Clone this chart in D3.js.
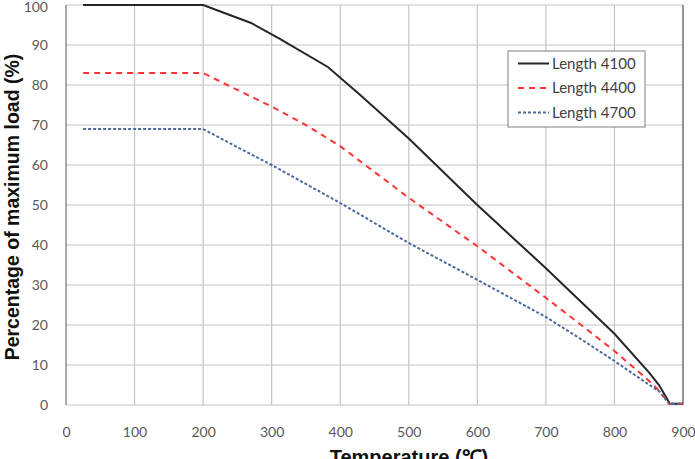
<!DOCTYPE html>
<html><head><meta charset="utf-8">
<script src="https://cdn.jsdelivr.net/npm/d3@7"></script>
<style>body{margin:0;background:#fff}svg{display:block}</style>
</head><body>
<svg id="c" width="695" height="459"></svg>
<script>
const xTicks = [0,100,200,300,400,500,600,700,800,900];
const yTicks = [0,10,20,30,40,50,60,70,80,90,100];
const seriesNames = ["Length 4100","Length 4400","Length 4700"];
const len4100 = [[25,100],[200,100],[270,95.5],[310,91.7],[382,84.5],[430,77.4],[500,66.6],[600,50],[700,34.2],[750,26],[800,17.8],[850,8.2],[865,5],[881,0.3],[900,0.3]];
const len4400 = [[25,83],[200,83],[240,79.6],[300,74.6],[350,70],[400,64.7],[500,51.8],[600,39.7],[700,26.8],[750,20.2],[800,13.5],[840,7.6],[857,5],[870,2.6],[879,0.3],[900,0.3]];
const len4700 = [[25,69],[200,69],[244,65],[300,60],[400,50.5],[500,40.5],[600,31.3],[700,22],[750,16.6],[800,11],[840,6.3],[866,3.3],[880,0.3],[900,0.3]];

const svg = d3.select("#c");
const x = d3.scaleLinear().domain([0,900]).range([66,683]);
const y = d3.scaleLinear().domain([0,100]).range([405,5]);

// gridlines
svg.append("g").selectAll("line").data(xTicks.slice(1)).join("line")
  .attr("x1",d=>x(d)).attr("x2",d=>x(d)).attr("y1",y(0)).attr("y2",y(100))
  .attr("stroke","#c4c4c4").attr("stroke-width",1.2);
svg.append("g").selectAll("line").data(yTicks).join("line")
  .attr("x1",x(0)).attr("x2",x(900)).attr("y1",d=>y(d)).attr("y2",d=>y(d))
  .attr("stroke","#c4c4c4").attr("stroke-width",1.2);
// axis lines
svg.append("line").attr("x1",x(0)).attr("x2",x(0)).attr("y1",y(0)).attr("y2",y(100)).attr("stroke","#7f7f7f").attr("stroke-width",1.3);
svg.append("line").attr("x1",x(900)).attr("x2",x(900)).attr("y1",y(0)).attr("y2",y(100)).attr("stroke","#6f6f6f").attr("stroke-width",1.3);

// axes labels via d3 axis
const ax = svg.append("g").attr("transform",`translate(0,${y(0)})`)
  .call(d3.axisBottom(x).tickValues(xTicks).tickSize(0).tickPadding(22));
const ay = svg.append("g").attr("transform",`translate(${x(0)},0)`)
  .call(d3.axisLeft(y).tickValues(yTicks).tickSize(0).tickPadding(18));
[ax,ay].forEach(a=>{
  a.select(".domain").remove();
  a.selectAll("text").attr("font-family","Lato, 'Open Sans', sans-serif").attr("font-size",14).attr("fill","#595959");
});
ay.selectAll("text").filter(d=>d===100).attr("dy","0.38em").attr("y",1);

// lines
const line = d3.line().x(d=>x(d[0])).y(d=>y(d[1]));
const styles = [
  {c:"#262626",w:2,dash:null},
  {c:"#ff3333",w:2,dash:"6,5"},
  {c:"#4a6a9c",w:2,dash:"3,2"}
];
[len4100,len4400,len4700].forEach((s,i)=>{
  svg.append("path").datum(s).attr("d",line).attr("fill","none")
    .attr("stroke",styles[i].c).attr("stroke-width",styles[i].w)
    .attr("stroke-dasharray",styles[i].dash);
});

// legend
const lg = svg.append("g");
lg.append("rect").attr("x",508).attr("y",51).attr("width",137).attr("height",76)
  .attr("fill","#fff").attr("stroke","#7f7f7f").attr("stroke-width",1);
seriesNames.forEach((n,i)=>{
  const yy = 63.5 + i*24.5;
  lg.append("line").attr("x1",518).attr("x2",549).attr("y1",yy).attr("y2",yy)
    .attr("stroke",styles[i].c).attr("stroke-width",styles[i].w).attr("stroke-dasharray",styles[i].dash);
  lg.append("text").attr("x",552).attr("y",yy+5).text(n)
    .attr("font-family","Lato, 'Open Sans', sans-serif").attr("font-size",15).attr("fill","#404040");
});

// titles
svg.append("text").attr("transform",`translate(19,207) rotate(-90)`).attr("text-anchor","middle")
  .attr("font-family","'Liberation Sans', Arial, sans-serif").attr("font-weight","bold").attr("font-size",19.5)
  .attr("fill","#111").text("Percentage of maximum load (%)");
svg.append("text").attr("x",409).attr("y",464).attr("text-anchor","middle")
  .attr("font-family","'Liberation Sans', Arial, sans-serif").attr("font-weight","bold").attr("font-size",20)
  .attr("fill","#111").text("Temperature (℃)");
</script>
</body></html>
